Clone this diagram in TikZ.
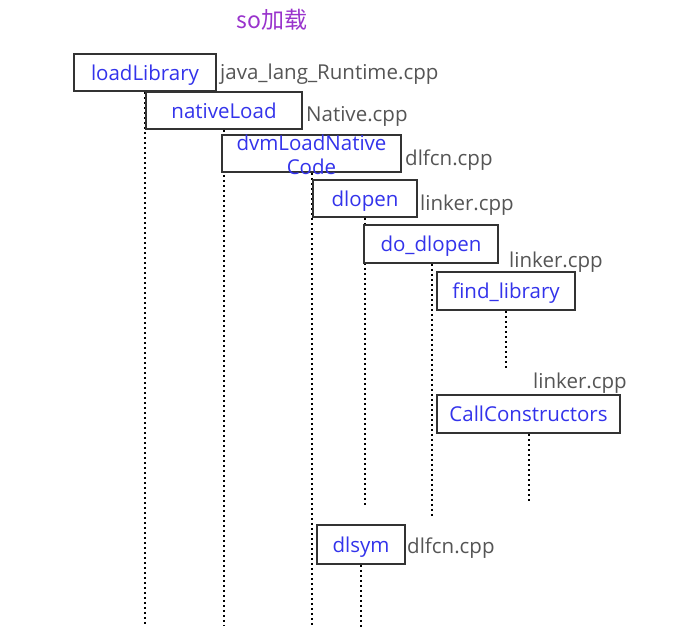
\documentclass[tikz,border=0pt]{standalone}
\usepackage{fontspec}
\setmainfont{Open Sans}
\newfontfamily\cjk{Noto Sans CJK SC}
\usetikzlibrary{backgrounds}

\definecolor{callblue}{RGB}{51,51,235}
\definecolor{filegray}{RGB}{85,85,85}
\definecolor{titlepurple}{RGB}{153,51,204}

\tikzset{
  call/.style = {draw = black!80, line width = 1.8pt, fill = white,
    inner sep = 0, text = callblue, text height = 15pt, text depth = 0pt},
  fname/.style = {anchor = west, inner sep = 0, text = filegray},
  lifeline/.style = {line width = 2pt, dash pattern = on 2pt off 3pt}
}

\begin{document}
\begin{tikzpicture}[x = 1pt, y = -1pt, font = \fontsize{20.5}{24}\selectfont]
  \useasboundingbox (0, 0) rectangle (680, 641);

  \node[text = titlepurple, font = \cjk\fontsize{23}{26}\selectfont] (title)
  at (272, 20) {so加载};

  % call boxes
  \node[call, minimum width = 142pt, minimum height = 37pt] (loadLib) at
  (145, 72.5) {loadLibrary};
  \node[call, minimum width = 156pt, minimum height = 37pt] (nativeLoad) at
  (224, 110.5) {nativeLoad};
  \node[call, minimum width = 179pt, minimum height = 37pt] (dvmLoad) at
  (311.5, 153.5) {};
  \node[align = center, text = callblue, inner sep = 0] (dvmText) at
  (311.5, 155) {dvmLoadNative\\Code};
  \node[call, minimum width = 104pt, minimum height = 37pt] (dlopen) at
  (365, 198.5) {dlopen};
  \node[call, minimum width = 134pt, minimum height = 38pt] (doDlopen) at
  (431, 244) {do\_dlopen};
  \node[call, minimum width = 138pt, minimum height = 38pt] (findLib) at
  (506, 291) {find\_library};
  \node[call, minimum width = 183pt, minimum height = 38pt] (callCons) at
  (528.5, 414) {CallConstructors};
  \node[call, minimum width = 88pt, minimum height = 39pt] (dlsym) at
  (361, 544.5) {dlsym};

  % source files
  \node[fname] (fLoadLib) at (220, 74.5) {java\_lang\_Runtime.cpp};
  \node[fname] (fNativeLoad) at (306, 116.5) {Native.cpp};
  \node[fname] (fDvmLoad) at (405, 160.5) {dlfcn.cpp};
  \node[fname] (fDlopen) at (420, 205.5) {linker.cpp};
  \node[fname] (fDoDlopen) at (509, 262.5) {linker.cpp};
  \node[fname] (fCallCons) at (533, 383.5) {linker.cpp};
  \node[fname] (fDlsym) at (407, 548.5) {dlfcn.cpp};

  % lifelines
  \coordinate (eLoadLib) at (145, 625);
  \coordinate (eNativeLoad) at (224, 625);
  \coordinate (eDvmLoad) at (311.5, 625);
  \coordinate (eDlopen) at (365, 505);
  \coordinate (eDoDlopen) at (432, 516);
  \coordinate (eFindLib) at (506, 368);
  \coordinate (eCallCons) at (529, 503);
  \coordinate (eDlsym) at (361, 628);
  \begin{scope}[on background layer]
    \draw[lifeline] (loadLib.south) -- (eLoadLib);
    \draw[lifeline] (nativeLoad.south) -- (eNativeLoad);
    \draw[lifeline] (dvmLoad.south) -- (eDvmLoad);
    \draw[lifeline] (dlopen.south) -- (eDlopen);
    \draw[lifeline] (doDlopen.south -| eDoDlopen) -- (eDoDlopen);
    \draw[lifeline] (findLib.south) -- (eFindLib);
    \draw[lifeline] (callCons.south -| eCallCons) -- (eCallCons);
    \draw[lifeline] (dlsym.south) -- (eDlsym);
  \end{scope}
\end{tikzpicture}
\end{document}
